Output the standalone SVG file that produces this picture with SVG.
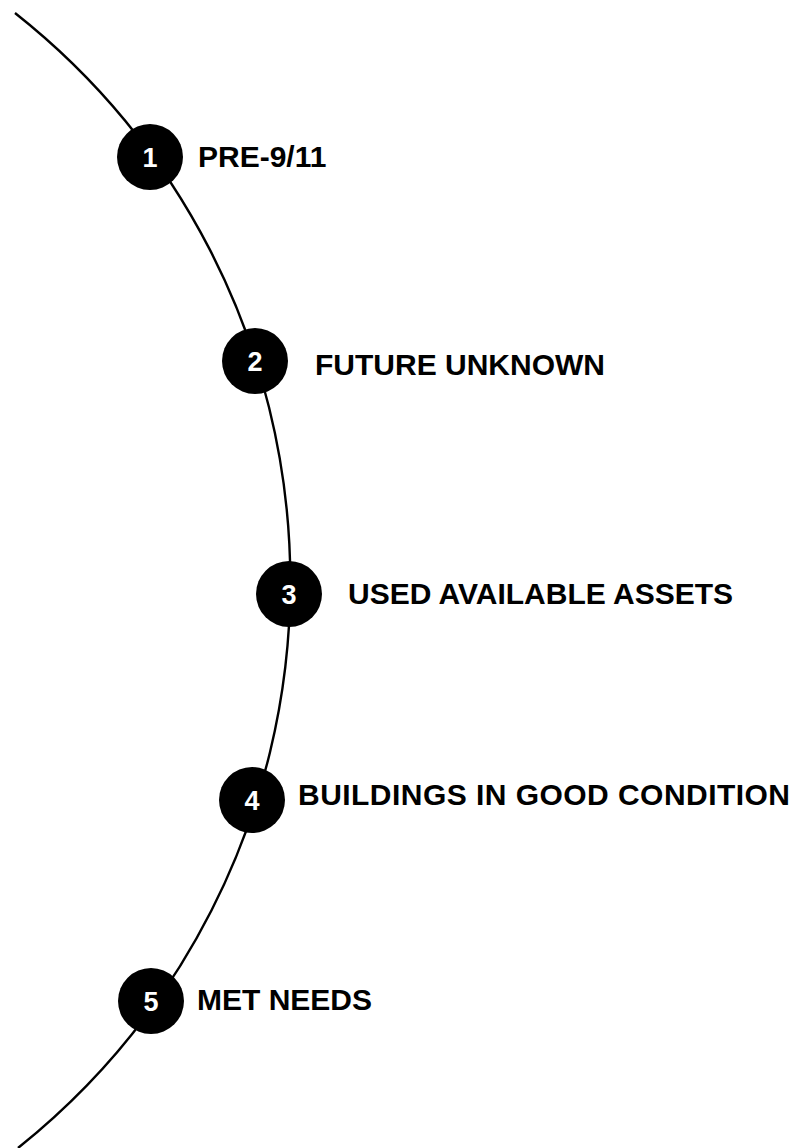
<svg xmlns="http://www.w3.org/2000/svg" width="794" height="1148" viewBox="0 0 794 1148">
<style>
.bg{fill:#ffffff}
.curve{fill:none;stroke:#000;stroke-width:2.4}
.dot{fill:#000}
.num{font-family:"Liberation Sans",Arial,sans-serif;font-weight:bold;font-size:27px;fill:#fff;text-anchor:middle}
.lbl{font-family:"Liberation Sans",Arial,sans-serif;font-weight:bold;font-size:30px;fill:#000}
</style>
<rect class="bg" x="0" y="0" width="794" height="1148"/>
<g id="connectors">
<path class="curve" d="M15,13 A725,725 0 0 1 18,1148"/>
</g>
<g id="step1">
<circle class="dot" cx="150" cy="157" r="33"/>
<text class="num" x="150" y="167">1</text>
<text class="lbl" x="198" y="167">PRE-9/11</text>
</g>
<g id="step2">
<circle class="dot" cx="255" cy="361" r="33"/>
<text class="num" x="255" y="371">2</text>
<text class="lbl" x="315" y="375">FUTURE UNKNOWN</text>
</g>
<g id="step3">
<circle class="dot" cx="289" cy="594" r="33"/>
<text class="num" x="289" y="604">3</text>
<text class="lbl" x="348" y="604">USED AVAILABLE ASSETS</text>
</g>
<g id="step4">
<circle class="dot" cx="252" cy="800" r="33"/>
<text class="num" x="252" y="810">4</text>
<text class="lbl" x="298" y="805" textLength="492">BUILDINGS IN GOOD CONDITION</text>
</g>
<g id="step5">
<circle class="dot" cx="151" cy="1001" r="33"/>
<text class="num" x="151" y="1011">5</text>
<text class="lbl" x="197" y="1010">MET NEEDS</text>
</g>
</svg>
